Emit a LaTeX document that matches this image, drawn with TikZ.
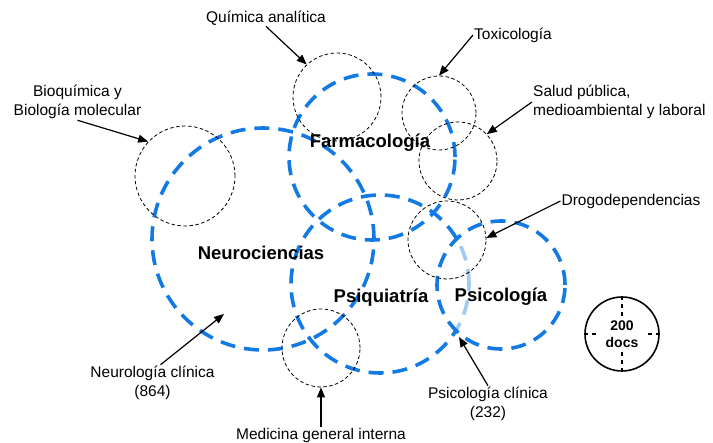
\documentclass[tikz,border=0pt]{standalone}
\usepackage{fontspec}
\setmainfont{Liberation Sans}
\usetikzlibrary{arrows.meta}
\definecolor{areablue}{RGB}{18,122,226}
\begin{document}
\begin{tikzpicture}[x=1pt,y=-1pt,font=\fontsize{15.5}{19.5}\selectfont]
      \tikzstyle{area circle}=[circle,draw=areablue,line width=3.6pt,dash pattern=on 15pt off 9pt,inner sep=0pt]
      \tikzstyle{field circle}=[circle,draw=black,line width=0.8pt,dash pattern=on 3.5pt off 2.5pt,inner sep=0pt]
      \tikzstyle{area label}=[font=\fontsize{18.5}{22}\selectfont\bfseries]
      \tikzstyle{field label}=[align=center,inner sep=1pt]
      \tikzstyle{pointer}=[-{Triangle[length=10pt,width=8pt]},line width=1.2pt]
      \useasboundingbox (0,0) rectangle (713,443);

      \node(neuro)[area circle,minimum size=222pt] at (263,239) {};
      \node(farma)[area circle,minimum size=166pt] at (372,157) {};
      \node(psiq)[area circle,minimum size=178pt] at (380,284) {};
      \fill[white,opacity=0.6] (501,285) circle (64pt);
      \node(psic)[area circle,minimum size=128pt] at (501,285) {};

      \node(quim)[field circle,minimum size=88pt] at (337,97) {};
      \node(bioq)[field circle,minimum size=100pt] at (185,176) {};
      \node(toxi)[field circle,minimum size=74pt] at (439,113) {};
      \node(salud)[field circle,minimum size=78pt] at (458,161) {};
      \node(drogo)[field circle,minimum size=78pt] at (447,240) {};
      \node(med)[field circle,minimum size=78pt] at (321,348) {};
      \coordinate(neuclin) at (224,314);
      \coordinate(psiclin) at (459,337);

      \node(neurolbl)[area label] at (261,253) {Neurociencias};
      \node(farmalbl)[area label] at (370,143) {Farmacología};
      \node(psiqlbl)[area label] at (381,298) {Psiquiatría};
      \node(psiclbl)[area label] at (501,297) {Psicología};

      \node(quimlbl)[field label] at (266,18) {Química analítica};
      \node(bioqlbl)[field label] at (77.5,102) {Bioquímica y\\Biología molecular};
      \node(toxilbl)[field label] at (513,35) {Toxicología};
      \node(saludlbl)[field label,align=left,anchor=west] at (532,102) {Salud pública,\\medioambiental y laboral};
      \node(drogolbl)[field label] at (631,201) {Drogodependencias};
      \node(neuclinlbl)[field label] at (152.5,383) {Neurología clínica\\(864)};
      \node(medlbl)[field label] at (321,435) {Medicina general interna};
      \node(psiclinlbl)[field label] at (488,404) {Psicología clínica\\(232)};

      \draw[pointer] (quimlbl.south) -- (quim.133);
      \draw[pointer] (bioqlbl.south) -- (bioq.137);
      \draw[pointer] (toxilbl.west) -- (toxi.north);
      \draw[pointer] (saludlbl.west) -- (salud.43);
      \draw[pointer] (drogolbl.west) -- (drogo.3);
      \draw[pointer] ([xshift=8pt]neuclinlbl.north) -- (neuclin);
      \draw[pointer] (medlbl.north) -- (med.south);
      \draw[pointer] (psiclinlbl.north) -- (psiclin);

      \node(docs)[circle,draw,line width=1.6pt,minimum size=74pt,inner sep=0pt] at (622,334) {};
      \draw[line width=1.2pt,dash pattern=on 4pt off 4pt] (docs.north) -- (docs.south);
      \draw[line width=1.2pt,dash pattern=on 4pt off 4pt] (docs.west) -- (docs.east);
      \node(docstxt)[fill=white,font=\fontsize{14}{17}\selectfont\bfseries,align=center,inner xsep=7pt,inner ysep=1.5pt] at (docs.center) {200\\docs};
    \end{tikzpicture}
\end{document}
